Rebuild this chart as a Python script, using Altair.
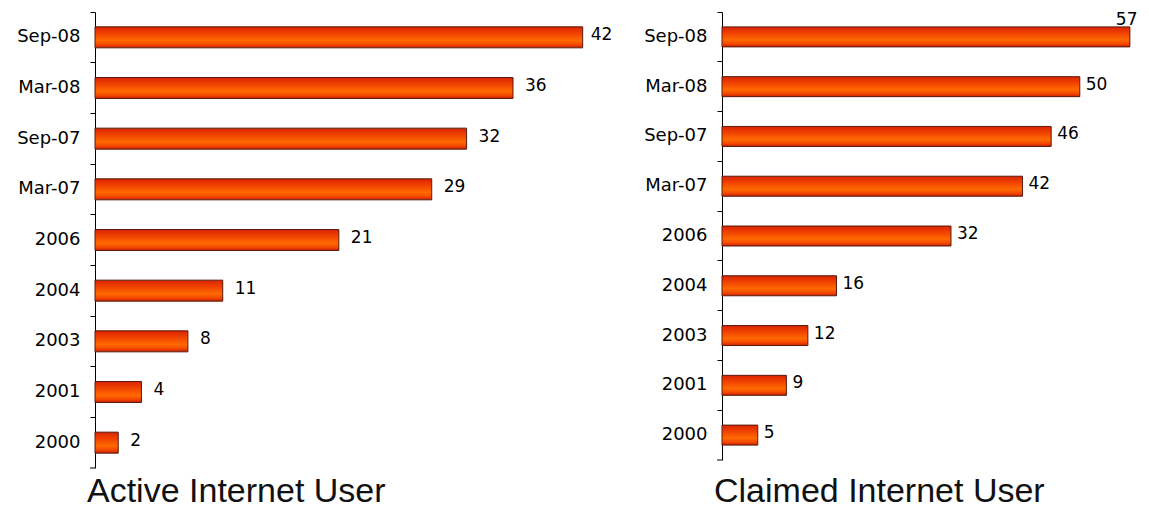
import altair as alt
import pandas as pd

periods = ["Sep-08", "Mar-08", "Sep-07", "Mar-07", "2006", "2004", "2003", "2001", "2000"]
active_users = [42, 36, 32, 29, 21, 11, 8, 4, 2]
claimed_users = [57, 50, 46, 42, 32, 16, 12, 9, 5]

df_active = pd.DataFrame({"period": periods, "value": active_users})
df_claimed = pd.DataFrame({"period": periods, "value": claimed_users})

bar_fill = alt.Gradient(
    gradient="linear",
    x1=0, x2=0, y1=0, y2=1,
    stops=[
        alt.GradientStop(color="#d82400", offset=0),
        alt.GradientStop(color="#f04000", offset=0.3),
        alt.GradientStop(color="#ff6a00", offset=0.65),
        alt.GradientStop(color="#f44800", offset=0.85),
        alt.GradientStop(color="#c82000", offset=1),
    ],
)

LABEL_FONT = "DejaVu Sans"
TITLE_FONT = "Liberation Sans"


def panel(df, title, xmax, width, height, barsize, dx, title_offset, top_dx, top_dy):
    y_enc = alt.Y(
        "period:N",
        sort=periods,
        scale=alt.Scale(paddingInner=0, paddingOuter=0),
        axis=alt.Axis(
            title=None,
            bandPosition=0,
            tickSize=5,
            tickColor="#000",
            domainColor="#000",
            labelFont=LABEL_FONT,
            labelFontSize=18,
            labelColor="#000",
            labelPadding=10,
            grid=False,
        ),
    )
    x_enc = alt.X(
        "value:Q",
        scale=alt.Scale(domain=[0, xmax], nice=False),
        axis=None,
    )
    base = alt.Chart(df).encode(y=y_enc, x=x_enc)
    bars = base.mark_bar(
        size=barsize, color=bar_fill, stroke="#5a1a10", strokeWidth=1
    )
    # closing tick at the bottom end of the category axis
    end_tick = alt.Chart(df.head(1)).mark_rule(color="#000").encode(
        x=alt.value(-5), x2=alt.value(0), y=alt.value(height)
    )
    top_val = max(df["value"])
    labels = base.transform_filter(alt.datum.value < top_val).mark_text(
        align="left", baseline="middle", dx=dx, dy=-2,
        font=LABEL_FONT, fontSize=17, color="#000",
    ).encode(text="value:Q")
    top_label = base.transform_filter(alt.datum.value == top_val).mark_text(
        align="left", baseline="middle", dx=top_dx, dy=top_dy,
        font=LABEL_FONT, fontSize=17, color="#000",
    ).encode(text="value:Q")
    return alt.layer(bars, end_tick, labels, top_label).properties(
        width=width,
        height=height,
        title=alt.TitleParams(
            title,
            orient="bottom",
            anchor="start",
            frame="group",
            font=TITLE_FONT,
            fontSize=34,
            fontWeight="normal",
            color="#111",
            offset=title_offset,
            dx=-8,
        ),
    )


left = panel(df_active, "Active Internet User", 42.2, 490, 456, 21, 12, 6, 8, -2)
right = panel(df_claimed, "Claimed Internet User", 55.9, 400, 448, 20, 6, 14, -14, -17)

chart = (
    alt.hconcat(left, right, spacing=30)
    .properties(
        padding={"left": 8, "top": 2, "right": 0, "bottom": 0},
        background="white",
    )
    .configure_view(stroke=None)
)

chart.save("out.html", embed_options={"renderer": "svg", "actions": False})
